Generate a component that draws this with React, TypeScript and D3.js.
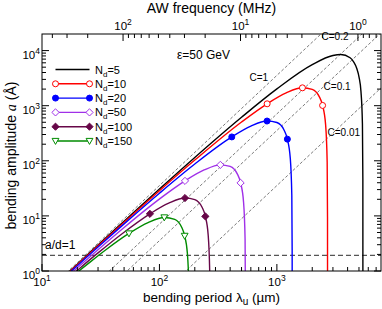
import React from 'react';
import * as d3 from 'd3';

const width = 382;
const height = 309;
const plot = { left: 42, right: 381, top: 34, bottom: 271 };
const font = 'Liberation Sans, Arial, Helvetica, sans-serif';

// bending period (um) vs bending amplitude (A), one pair of arrays per N_d
const lam5 = [15, 20, 30, 50, 100, 200, 500, 1000, 2000, 3000, 3500, 4200, 4500, 4800, 5000, 5200, 5350, 5395, 5400];
const amp5 = [0.76, 1.33, 2.96, 8.0, 30.7, 115, 617, 2020, 5560, 8140, 8480, 7400, 6260, 4680, 3350, 1800, 471, 47.5, 0.3];

const lam10 = [15, 20, 30, 50, 100, 200, 500, 826, 1200, 1650, 2000, 2300, 2450, 2600, 2680, 2698, 2700];
const amp10 = [0.74, 1.3, 2.86, 7.67, 28.7, 103, 506, 1082, 1704, 2110, 1978, 1446, 1010, 449, 94.6, 9.6, 0.3];

const lam20 = [15, 20, 30, 50, 100, 200, 413, 600, 825, 1000, 1150, 1228, 1300, 1340, 1349, 1350];
const amp20 = [0.72, 1.25, 2.72, 7.17, 25.8, 87.3, 271, 426, 527, 495, 362, 247, 112, 23.6, 2.4, 0.3];

const lam50 = [15, 20, 30, 50, 80, 120, 165, 240, 330, 400, 460, 491, 520, 536, 540];
const amp50 = [0.67, 1.15, 2.44, 6.17, 14.0, 27.0, 43.2, 68.2, 84.4, 79.1, 57.8, 39.7, 18.0, 3.8, 0.3];

const lam100 = [15, 20, 30, 50, 83, 120, 165, 200, 230, 246, 260, 268, 270];
const amp100 = [0.61, 1.03, 2.13, 5.06, 10.9, 17.0, 21.1, 19.8, 14.5, 9.8, 4.5, 0.95, 0.3];

const lam150 = [18, 20, 25, 35, 55, 80, 110, 135, 155, 164, 173, 178, 180];
const amp150 = [0.79, 0.95, 1.39, 2.43, 4.8, 7.57, 9.38, 8.67, 6.14, 4.34, 2.08, 0.63, 0.3];

const ndLabels = ['5', '10', '20', '50', '100', '150'];
const markerIdx = [[], [7, 9, 12], [6, 8, 11], [6, 8, 11], [4, 6, 9], [4, 6, 9]];

// C = const lines (two end points each)
const cValues = ['1', '0.2', '0.1', '0.01'];
const cLam = [[15, 2400], [30, 5400], [50, 7700], [160, 7700]];
const cAmp = [[0.8, 20450], [0.64, 20700], [0.89, 21050], [0.91, 2105]];
const cLabelPos = [[585, 2750], [2400, 15500], [2500, 1950], [2700, 280]];

const adLevel = 1.92;
const awSpeed = 4900; // um * MHz

const xMajor = [10, 100, 1000];
const yMajor = [1, 10, 100, 1000, 10000];
const fMajor = [100, 10, 1];
const xMajorExp = ['1', '2', '3'];
const yMajorExp = ['0', '1', '2', '3', '4'];
const fMajorExp = ['2', '1', '0'];

const series = [
  { lam: lam5, amp: amp5, color: '#000000', shape: 'none' },
  { lam: lam10, amp: amp10, color: '#ff0000', shape: 'circleOpen' },
  { lam: lam20, amp: amp20, color: '#0000ff', shape: 'circle' },
  { lam: lam50, amp: amp50, color: '#a030e8', shape: 'diamondOpen' },
  { lam: lam100, amp: amp100, color: '#670748', shape: 'diamond' },
  { lam: lam150, amp: amp150, color: '#008b00', shape: 'triangleDown' },
];

const marker = (shape, x, y, color, key) => {
  const open = shape.endsWith('Open') || shape === 'triangleDown';
  const fill = open ? '#fff' : color;
  if (shape === 'circleOpen' || shape === 'circle') {
    return <circle key={key} cx={x} cy={y} r={3} fill={fill} stroke={color} strokeWidth={1} />;
  }
  if (shape === 'diamondOpen' || shape === 'diamond') {
    const s = 3.6;
    return <path key={key} d={`M${x},${y - s}L${x + s},${y}L${x},${y + s}L${x - s},${y}Z`} fill={fill} stroke={color} strokeWidth={1} />;
  }
  if (shape === 'triangleDown') {
    return <path key={key} d={`M${x - 3.4},${y - 2.6}L${x + 3.4},${y - 2.6}L${x},${y + 3.4}Z`} fill={fill} stroke={color} strokeWidth={1} />;
  }
  return null;
};

const minors = (lo, hi) => {
  const out = [];
  for (let e = -1; e <= 4; e++) {
    for (let m = 2; m <= 9; m++) {
      const v = m * Math.pow(10, e);
      if (v > lo && v < hi) out.push(v);
    }
  }
  return out;
};

const App = () => {
  const x = d3.scaleLog().domain([10, 7700]).range([plot.left, plot.right]);
  const y = d3.scaleLog().domain([1, 20000]).range([plot.bottom, plot.top]);
  const xf = (f) => x(awSpeed / f);

  const line = d3.line().x(d => x(d[0])).y(d => y(d[1])).curve(d3.curveMonotoneX);

  const legendY = (i) => 69.5 + i * 14.3;

  return (
    <svg width={width} height={height} style={{ display: 'block', position: 'absolute', left: 0, top: 0 }} fontFamily={font}>
      <defs>
        <clipPath id="plotclip">
          <rect x={plot.left} y={plot.top} width={plot.right - plot.left} height={plot.bottom - plot.top} />
        </clipPath>
      </defs>
      <rect width={width} height={height} fill="#fff" />

      <g clipPath="url(#plotclip)">
        {cValues.map((c, i) => (
          <line key={c} x1={x(cLam[i][0])} y1={y(cAmp[i][0])} x2={x(cLam[i][1])} y2={y(cAmp[i][1])}
            stroke="#222" strokeWidth={0.6} strokeDasharray="3,2" />
        ))}
        <line x1={plot.left} x2={plot.right} y1={y(adLevel)} y2={y(adLevel)} stroke="#555" strokeWidth={1.3} strokeDasharray="5,3" />
        {series.map((s, i) => (
          <path key={i} d={line(s.lam.map((l, j) => [l, s.amp[j]]))} fill="none" stroke={s.color} strokeWidth={1.4} />
        ))}
        {series.map((s, i) => markerIdx[i].map(j => marker(s.shape, x(s.lam[j]), y(s.amp[j]), s.color, `${i}-${j}`)))}
      </g>

      {cValues.map((c, i) => (
        <text key={c} x={x(cLabelPos[i][0])} y={y(cLabelPos[i][1])} fontSize={10} fill="#000">C={c}</text>
      ))}
      <text x={45} y={249} fontSize={12}>a/d=1</text>
      <text x={177} y={59} fontSize={12}>ε=50 GeV</text>

      {/* legend */}
      {series.map((s, i) => (
        <g key={i}>
          <line x1={55.5} x2={89.5} y1={legendY(i)} y2={legendY(i)} stroke={s.color} strokeWidth={1.4} />
          {marker(s.shape, 55.5, legendY(i), s.color, 'a')}
          {marker(s.shape, 89.5, legendY(i), s.color, 'b')}
          <text x={95} y={legendY(i) + 4} fontSize={11}>N<tspan dy={3} fontSize={8}>d</tspan><tspan dy={-3}>={ndLabels[i]}</tspan></text>
        </g>
      ))}

      {/* frame */}
      <rect x={plot.left} y={plot.top} width={plot.right - plot.left} height={plot.bottom - plot.top} fill="none" stroke="#000" strokeWidth={1} />

      {/* bottom ticks */}
      {xMajor.map(v => <line key={v} x1={x(v)} x2={x(v)} y1={plot.bottom} y2={plot.bottom - 7} stroke="#000" />)}
      {minors(10, 7700).map(v => <line key={v} x1={x(v)} x2={x(v)} y1={plot.bottom} y2={plot.bottom - 4} stroke="#000" />)}
      {xMajor.map((v, i) => (
        <text key={v} x={x(v)} y={286} fontSize={11.5} textAnchor="middle">10<tspan dy={-5} fontSize={8.5}>{xMajorExp[i]}</tspan></text>
      ))}

      {/* top (frequency) ticks */}
      {fMajor.map(v => <line key={v} x1={xf(v)} x2={xf(v)} y1={plot.top} y2={plot.top + 7} stroke="#000" />)}
      {minors(awSpeed / 7700, awSpeed / 10).map(v => <line key={v} x1={xf(v)} x2={xf(v)} y1={plot.top} y2={plot.top + 4} stroke="#000" />)}
      {fMajor.map((v, i) => (
        <text key={v} x={xf(v)} y={30} fontSize={11.5} textAnchor="middle">10<tspan dy={-5} fontSize={8.5}>{fMajorExp[i]}</tspan></text>
      ))}

      {/* left / right ticks */}
      {yMajor.map(v => (
        <g key={v}>
          <line x1={plot.left} x2={plot.left + 7} y1={y(v)} y2={y(v)} stroke="#000" />
          <line x1={plot.right} x2={plot.right - 7} y1={y(v)} y2={y(v)} stroke="#000" />
        </g>
      ))}
      {minors(1, 20000).map(v => (
        <g key={v}>
          <line x1={plot.left} x2={plot.left + 4} y1={y(v)} y2={y(v)} stroke="#000" />
          <line x1={plot.right} x2={plot.right - 4} y1={y(v)} y2={y(v)} stroke="#000" />
        </g>
      ))}
      {yMajor.map((v, i) => (
        <text key={v} x={40} y={y(v) + 8} fontSize={11.5} textAnchor="end">10<tspan dy={-5} fontSize={8.5}>{yMajorExp[i]}</tspan></text>
      ))}

      {/* axis titles */}
      <text x={(plot.left + plot.right) / 2} y={302} fontSize={13.5} textAnchor="middle">
        bending period λ<tspan dy={3} fontSize={10}>u</tspan><tspan dy={-3}> (µm)</tspan>
      </text>
      <text x={(plot.left + plot.right) / 2} y={13} fontSize={14} textAnchor="middle">AW frequency (MHz)</text>
      <text transform={`translate(16, ${(plot.top + plot.bottom) / 2 + 3}) rotate(-90)`} fontSize={14} textAnchor="middle">
        bending amplitude <tspan fontFamily="Liberation Serif, serif" fontStyle="italic">a</tspan> (Å)
      </text>
    </svg>
  );
};

export default App;
